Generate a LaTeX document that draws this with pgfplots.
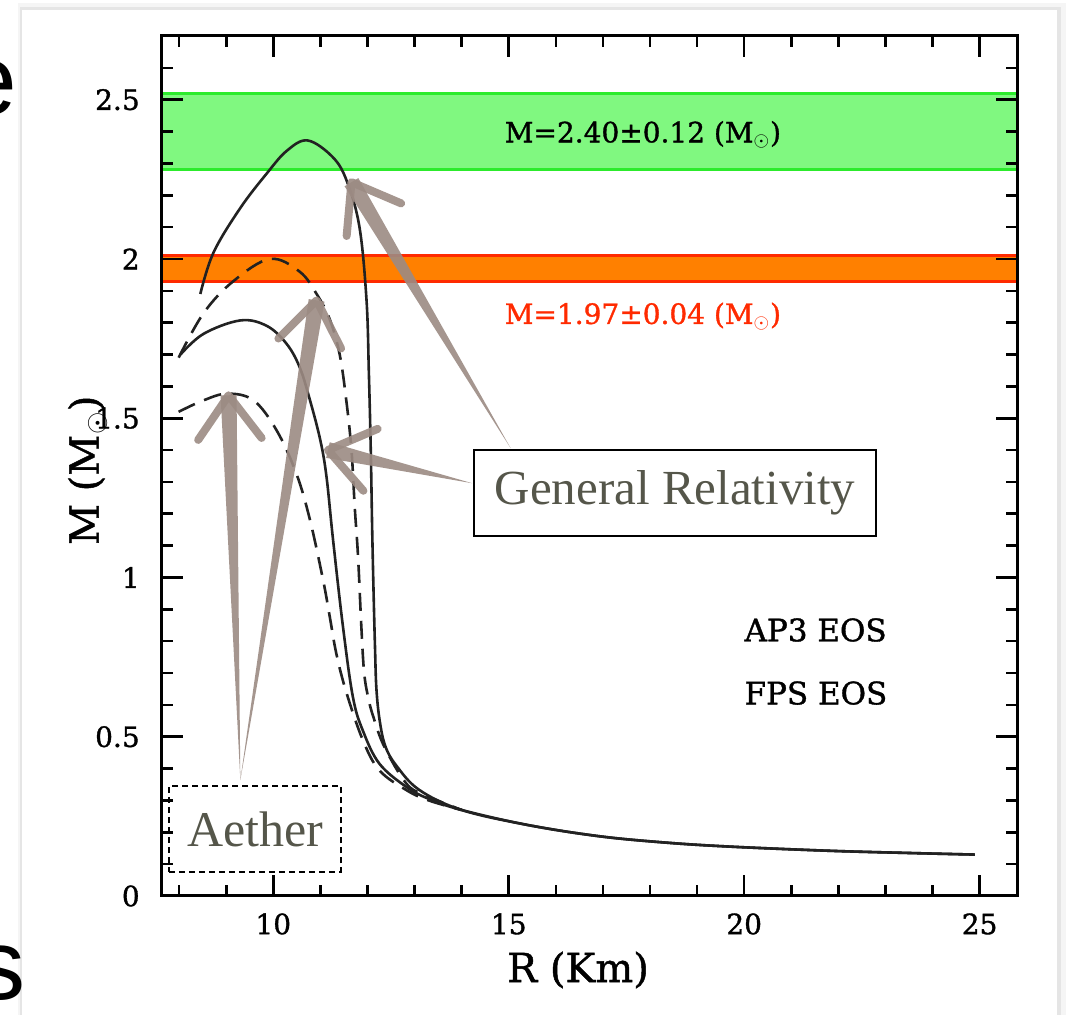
\documentclass[border=0pt]{standalone}
\usepackage{pgfplots}
\pgfplotsset{compat=1.18}
\usepackage{fontspec}
\setmainfont{Liberation Serif}
\newfontfamily\plotfont[FakeBold=1.2]{DejaVu Serif}
\newfontfamily\slidefont{Liberation Sans}
\usetikzlibrary{calc}
\definecolor{bandgreen}{HTML}{80F880}
\definecolor{bandgreenedge}{HTML}{2CEB2C}
\definecolor{bandorange}{HTML}{FF8000}
\definecolor{bandred}{HTML}{FF2A00}
\definecolor{arrowc}{HTML}{9C8B83}
\definecolor{anntext}{HTML}{55564A}
\definecolor{curve}{HTML}{222222}

\newcommand{\sketcharrow}[2]{%
  \fill[arrowc, opacity=0.9] (#1) -- ($(#2)!4pt!90:(#1)$) -- ($(#2)!4pt!-90:(#1)$) -- cycle;
  \draw[arrowc, opacity=0.9, line width=4pt, line cap=round, line join=round]
    ($(#2)!27pt!36:(#1)$) -- (#2) -- ($(#2)!27pt!-36:(#1)$);
}

\begin{document}
\begin{tikzpicture}[x=1pt,y=1pt]
\useasboundingbox (0,0) rectangle (533,507.5);
\fill[white] (0,0) rectangle (533,507.5);
\fill[black!4] (9,0) rectangle (533,506);
\fill[black!10] (10.2,0) rectangle (530.5,504);
\fill[white] (11,0) rectangle (528.5,502.5);
\node[anchor=base east, inner sep=0pt, font=\slidefont\fontsize{50}{50}\selectfont] at (8.8,450) {e};
\node[anchor=base east, inner sep=0pt, font=\slidefont\fontsize{50}{50}\selectfont] at (13,7.5) {s};

\begin{axis}[
  at={(80.85pt,59.5pt)}, anchor=south west,
  scale only axis, width=427.8pt, height=430pt,
  xmin=7.63, xmax=25.8, ymin=0, ymax=2.7,
  xtick={10,15,20,25}, minor xtick={8,9,...,25},
  ytick={0,0.5,1,1.5,2,2.5}, minor ytick={0.1,0.2,0.3,0.4,0.6,0.7,0.8,0.9,1.1,1.2,1.3,1.4,1.6,1.7,1.8,1.9,2.1,2.2,2.3,2.4,2.6},
  tick align=inside,
  major tick length=10.5pt, minor tick length=5.5pt,
  every tick/.style={black, line width=1.3pt},
  axis line style={line width=1.5pt},
  axis on top,
  /pgf/number format/assume math mode=true,
  tick label style={font=\plotfont\fontsize{14}{14}\selectfont},
  yticklabel style={anchor=east, inner sep=0pt, xshift=-10.8pt},
  xticklabel style={anchor=north, inner sep=0pt, yshift=-8.5pt},
  xlabel={R (Km)}, ylabel={M (M$_{\odot}$)},
  every axis x label/.style={at={(axis description cs:0.4866,0)}, anchor=center, yshift=-37pt, font=\plotfont\fontsize{20}{20}\selectfont},
  every axis y label/.style={at={(axis description cs:0,0.495)}, xshift=-37pt, anchor=center, rotate=90, font=\plotfont\fontsize{20}{20}\selectfont},
]
% observational bands
\addplot[fill=bandgreen, draw=bandgreenedge, line width=1.4pt] coordinates {(7.63,2.28) (25.8,2.28) (25.8,2.52) (7.63,2.52)} -- cycle;
\addplot[fill=bandorange, draw=bandred, line width=1.4pt] coordinates {(7.63,1.93) (25.8,1.93) (25.8,2.01) (7.63,2.01)} -- cycle;

% curve A (solid, max 2.37)
\addplot[curve, line width=1.3pt, smooth, tension=0.6] coordinates {
(8.45,1.89) (8.73,2.02) (9.30,2.16) (9.87,2.27) (10.29,2.34) (10.73,2.372) (11.26,2.32) (11.56,2.245) (11.83,2.10) (11.98,1.87) (12.03,1.64) (12.07,1.40) (12.10,1.15) (12.13,0.95) (12.16,0.78) (12.19,0.65) (12.26,0.55) (12.38,0.47) (12.61,0.41) (13.1,0.333) (14.0,0.27) (15.4,0.223) (16.9,0.188) (18.3,0.168) (19.7,0.155) (21.8,0.142) (23.5,0.135) (24.9,0.130)};
% curve B (dashed, max 2.0)
\addplot[curve, line width=1.3pt, dash pattern=on 9pt off 5pt, smooth, tension=0.6] coordinates {
(7.99,1.69) (8.52,1.83) (9.15,1.93) (9.93,2.0) (10.56,1.96) (10.92,1.89) (11.2,1.81) (11.41,1.70) (11.55,1.556) (11.66,1.40) (11.73,1.22) (11.80,1.065) (11.87,0.845) (11.93,0.70) (12.02,0.62) (12.13,0.56) (12.36,0.468) (12.82,0.354) (13.2,0.318) (14.0,0.27)};
% curve C (solid, max 1.8)
\addplot[curve, line width=1.3pt, smooth, tension=0.6] coordinates {
(8.03,1.70) (8.52,1.765) (9.30,1.807) (9.86,1.79) (10.28,1.734) (10.56,1.66) (10.78,1.556) (11.0,1.43) (11.13,1.316) (11.27,1.117) (11.48,0.845) (11.69,0.625) (11.90,0.52) (12.25,0.416) (12.82,0.343) (13.3,0.305) (14.0,0.27) (15.4,0.223) (16.9,0.188) (18.3,0.168) (19.7,0.155) (21.8,0.142) (23.5,0.135) (24.9,0.130)};
% curve D (dashed, max 1.58)
\addplot[curve, line width=1.3pt, dash pattern=on 9pt off 5pt, smooth, tension=0.6] coordinates {
(7.99,1.52) (8.5,1.555) (9.02,1.577) (9.58,1.556) (10.07,1.462) (10.49,1.326) (10.78,1.18) (11.06,0.99) (11.2,0.876) (11.34,0.76) (11.55,0.64) (11.90,0.49) (12.25,0.395) (12.82,0.333) (13.3,0.30) (14.0,0.27)};

% labels
\node[font=\plotfont\fontsize{14}{14}\selectfont] at (axis cs:17.85,2.39) {M=2.40±0.12 (M$_{\odot}$)};
\node[font=\plotfont\fontsize{14}{14}\selectfont, text=bandred] at (axis cs:17.85,1.82) {M=1.97±0.04 (M$_{\odot}$)};
\node[anchor=west, inner sep=0pt, font=\plotfont\fontsize{15.5}{15.5}\selectfont] at (axis cs:20.0,0.835) {AP3 EOS};
\node[anchor=west, inner sep=0pt, font=\plotfont\fontsize{15.5}{15.5}\selectfont] at (axis cs:20.0,0.637) {FPS EOS};

% annotation boxes
\node[draw=black, line width=1.1pt, fill=white, minimum width=201pt, minimum height=43pt, inner sep=0pt, text=anntext, font=\fontsize{24.5}{24.5}\selectfont] at (axis cs:18.53,1.2645) {General Relativity};
\node[draw=black, line width=1.1pt, dash pattern=on 3pt off 2pt, fill=white, minimum width=85.7pt, minimum height=43pt, inner sep=0pt, text=anntext, font=\fontsize{25}{25}\selectfont] at (axis cs:9.613,0.2102) {Aether};

% arrows
\coordinate (gA) at (axis cs:15.04,1.406);
\coordinate (tA) at (axis cs:11.66,2.241);
\coordinate (gB) at (axis cs:14.22,1.296);
\coordinate (tB) at (axis cs:11.16,1.40);
\coordinate (aeb) at (axis cs:9.30,0.364);
\coordinate (tD) at (axis cs:9.05,1.572);
\coordinate (tC) at (axis cs:10.92,1.87);
\sketcharrow{gA}{tA}
\sketcharrow{gB}{tB}
\sketcharrow{aeb}{tD}
\sketcharrow{aeb}{tC}
\end{axis}
\end{tikzpicture}
\end{document}
